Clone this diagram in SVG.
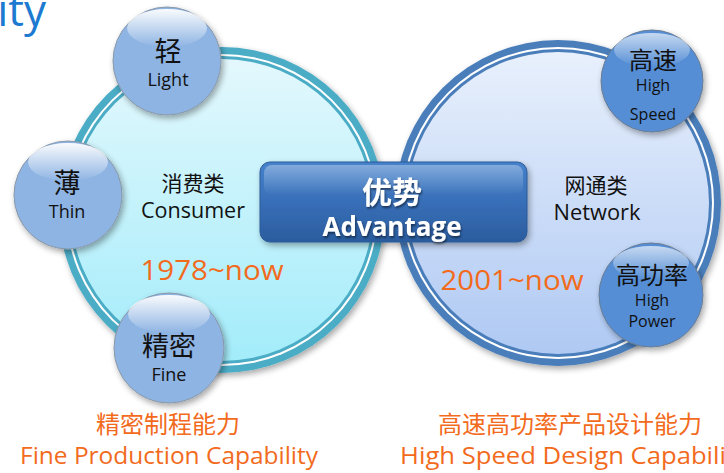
<svg xmlns="http://www.w3.org/2000/svg" width="724" height="473" viewBox="0 0 724 473">
<defs>
<linearGradient id="fillL" x1="0" y1="0" x2="0" y2="1"><stop offset="0" stop-color="#E3F8FD"/><stop offset="1" stop-color="#A3ECFA"/></linearGradient>
<linearGradient id="fillR" x1="0" y1="0" x2="0" y2="1"><stop offset="0" stop-color="#E8F0FC"/><stop offset="1" stop-color="#AFC9F3"/></linearGradient>
<linearGradient id="gloss" x1="0" y1="0" x2="0" y2="1"><stop offset="0" stop-color="#FFFFFF" stop-opacity="0.95"/><stop offset="1" stop-color="#FFFFFF" stop-opacity="0"/></linearGradient>
<linearGradient id="boxG" x1="0" y1="0" x2="0" y2="1"><stop offset="0" stop-color="#4682CC"/><stop offset="0.5" stop-color="#386FB8"/><stop offset="1" stop-color="#2B5C9E"/></linearGradient>
<filter id="sh" x="-20%" y="-20%" width="140%" height="140%"><feGaussianBlur in="SourceAlpha" stdDeviation="3"/><feOffset dx="2" dy="3"/><feComponentTransfer><feFuncA type="linear" slope="0.35"/></feComponentTransfer><feMerge><feMergeNode/><feMergeNode in="SourceGraphic"/></feMerge></filter>
<filter id="tsh" x="-10%" y="-10%" width="120%" height="130%"><feGaussianBlur in="SourceAlpha" stdDeviation="1"/><feOffset dx="1" dy="2"/><feComponentTransfer><feFuncA type="linear" slope="0.5"/></feComponentTransfer><feMerge><feMergeNode/><feMergeNode in="SourceGraphic"/></feMerge></filter>
</defs>
<style>
text{font-family:"Open Sans","Noto Sans","Noto Sans CJK SC",sans-serif;text-anchor:middle}
.blk{fill:#111}
.org{fill:#F26B1D}
.sm1{fill:#8EB4E3;stroke:#8A98A8;stroke-width:1}
.sm2{fill:#558ED5;stroke:#6A7C92;stroke-width:1}
.wh{fill:#FFFFFF;font-weight:bold}
</style>
<text x="46" y="26" style="text-anchor:end;fill:#1C7AD0;font-size:44px">ity</text>

<g id="consumer">
<circle cx="222" cy="210" r="163" fill="#4BACC6" filter="url(#sh)"/>
<circle cx="222" cy="210" r="156" fill="#FFFFFF"/>
<circle cx="222" cy="210" r="154" fill="#4BACC6"/>
<circle cx="222" cy="210" r="151" fill="url(#fillL)"/>
<text x="193" y="191" class="blk" style="font-size:21px">消费类</text>
<text x="193" y="218" class="blk" style="font-size:21px" textLength="104" lengthAdjust="spacingAndGlyphs">Consumer</text>
<text x="212" y="280" class="org" style="font-size:28px" textLength="143" lengthAdjust="spacingAndGlyphs">1978~now</text>
</g>

<g id="network">
<circle cx="558" cy="203" r="163" fill="#4A7EBB" filter="url(#sh)"/>
<circle cx="558" cy="203" r="156" fill="#FFFFFF"/>
<circle cx="558" cy="203" r="154" fill="#4A7EBB"/>
<circle cx="558" cy="203" r="151" fill="url(#fillR)"/>
<text x="596" y="193" class="blk" style="font-size:21px">网通类</text>
<text x="597" y="220" class="blk" style="font-size:21px" textLength="87" lengthAdjust="spacingAndGlyphs">Network</text>
<text x="512" y="290" class="org" style="font-size:28px" textLength="143" lengthAdjust="spacingAndGlyphs">2001~now</text>
</g>

<g id="light">
<circle cx="167" cy="61" r="54" class="sm1" filter="url(#sh)"/>
<ellipse cx="167" cy="28" rx="40" ry="19" fill="url(#gloss)"/>
<text x="168" y="61" class="blk" style="font-size:27px">轻</text>
<text x="168" y="86" class="blk" style="font-size:18px">Light</text>
</g>

<g id="thin">
<circle cx="68" cy="195" r="54" class="sm1" filter="url(#sh)"/>
<ellipse cx="68" cy="162" rx="40" ry="19" fill="url(#gloss)"/>
<text x="67" y="193" class="blk" style="font-size:27px">薄</text>
<text x="67" y="218" class="blk" style="font-size:18px">Thin</text>
</g>

<g id="fine">
<circle cx="169" cy="348" r="55" class="sm1" filter="url(#sh)"/>
<ellipse cx="169" cy="314" rx="41" ry="19" fill="url(#gloss)"/>
<text x="169" y="356" class="blk" style="font-size:27px">精密</text>
<text x="169" y="381" class="blk" style="font-size:18px">Fine</text>
</g>

<g id="highspeed">
<circle cx="652" cy="81" r="51" class="sm2" filter="url(#sh)"/>
<ellipse cx="652" cy="50" rx="38" ry="17" fill="url(#gloss)" opacity="0.7"/>
<text x="653" y="69" class="blk" style="font-size:24px">高速</text>
<text x="653" y="91" class="blk" style="font-size:16px">High</text>
<text x="653" y="120" class="blk" style="font-size:16px">Speed</text>
</g>

<g id="highpower">
<circle cx="651" cy="295" r="52" class="sm2" filter="url(#sh)"/>
<ellipse cx="651" cy="263" rx="38" ry="17" fill="url(#gloss)" opacity="0.7"/>
<text x="652" y="284" class="blk" style="font-size:24px">高功率</text>
<text x="652" y="306" class="blk" style="font-size:16px">High</text>
<text x="652" y="327" class="blk" style="font-size:16px">Power</text>
</g>

<g id="advantage">
<rect x="260" y="162" width="267" height="80" rx="10" fill="url(#boxG)" stroke="#2A5A97" stroke-width="1" filter="url(#sh)"/>
<rect x="264" y="165" width="259" height="30" rx="8" fill="url(#gloss)" opacity="0.35"/>
<text x="392" y="203" class="wh" style="font-size:30px" filter="url(#tsh)">优势</text>
<text x="392" y="236" class="wh" style="font-size:26px" filter="url(#tsh)">Advantage</text>
</g>

<g id="connectors"></g>

<g id="captions">
<text x="168" y="433" class="org" style="font-size:24px">精密制程能力</text>
<text x="169" y="464" class="org" style="font-size:24px" textLength="298" lengthAdjust="spacingAndGlyphs">Fine Production Capability</text>
<text x="570" y="433" class="org" style="font-size:24px">高速高功率产品设计能力</text>
<text x="400" y="464" class="org" style="font-size:24px;text-anchor:start" textLength="348" lengthAdjust="spacingAndGlyphs">High Speed Design Capability</text>
</g>
</svg>
